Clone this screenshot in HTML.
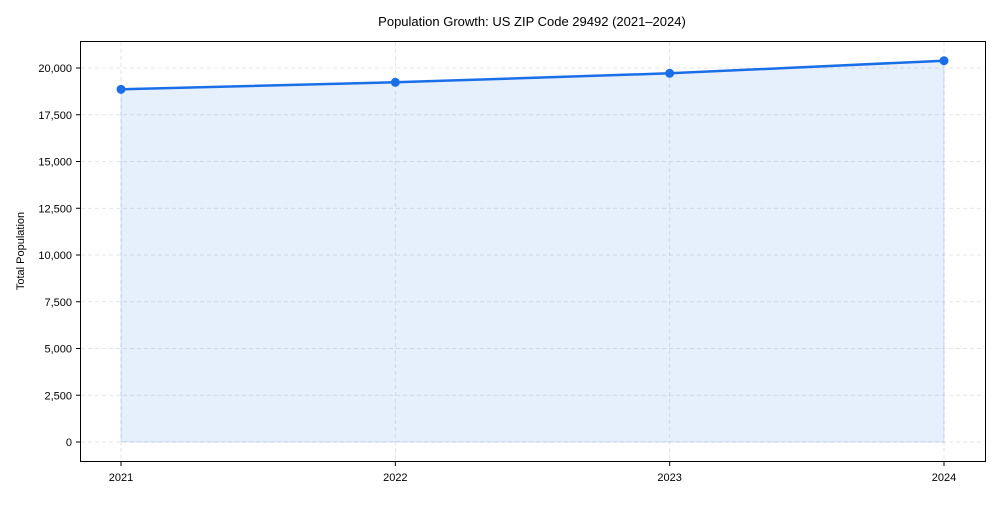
<!DOCTYPE html>
<html><head><meta charset="utf-8"><style>
body{margin:0;background:#fff;font-family:"Liberation Sans",Arial,sans-serif}
svg text{font-family:"Liberation Sans",Arial,sans-serif;fill:#000}
</style></head><body>
<svg id="chart" width="1000" height="500">
<text x="532" y="26" font-size="13" text-anchor="middle">Population Growth: US ZIP Code 29492 (2021–2024)</text>
<text transform="translate(24,251) rotate(-90)" font-size="11" text-anchor="middle">Total Population</text>
<g id="grid"></g><g id="area"></g><g id="line"></g><g id="axes"></g>
<rect x="80.5" y="41.5" width="905" height="420" fill="none" stroke="#000" stroke-width="1"/>
</svg>
<script>
const years=["2021","2022","2023","2024"];
const population=[18860,19235,19716,20390];
const yTicks=[0,2500,5000,7500,10000,12500,15000,17500,20000];
const NS="http://www.w3.org/2000/svg";
const X0=121,X1=944,Y0=442,PPU=374/20000;
function xs(i){return X0+(X1-X0)*i/(years.length-1);}
function ys(v){return Y0-v*PPU;}
function mk(t,a,p){const e=document.createElementNS(NS,t);for(const k in a)e.setAttribute(k,a[k]);document.getElementById(p).appendChild(e);return e;}
yTicks.forEach(v=>{
 const g=mk("line",{x1:81,x2:985,y1:ys(v),y2:ys(v),stroke:"#ddd","stroke-dasharray":"4,3","stroke-width":0.8},"grid");
 
 
 const t=mk("line",{x1:76,x2:80,y1:ys(v),y2:ys(v),stroke:"#000"},"axes");
 
 
 const l=mk("text",{x:72,y:ys(v)+4,"font-size":11,"text-anchor":"end"},"axes");
 l.textContent=v.toLocaleString("en-US");
 
 
});
years.forEach((y,i)=>{
 const g=mk("line",{x1:xs(i),x2:xs(i),y1:42,y2:461,stroke:"#ddd","stroke-dasharray":"4,3","stroke-width":0.8},"grid");
 
 
 const t=mk("line",{x1:xs(i),x2:xs(i),y1:462,y2:466,stroke:"#000"},"axes");
 
 
 const l=mk("text",{x:xs(i),y:481,"font-size":11,"text-anchor":"middle"},"axes");
 l.textContent=y;
 
 
});
let pts=population.map((v,i)=>xs(i)+","+ys(v)).join(" ");
const ar=mk("polygon",{points:xs(0)+","+Y0+" "+pts+" "+xs(years.length-1)+","+Y0,fill:"#1a73e8","fill-opacity":0.11,stroke:"#1a73e8","stroke-opacity":0.15},"area");


const ln=mk("polyline",{points:pts,fill:"none",stroke:"#1a6fe8","stroke-width":2.5},"line");


population.forEach((v,i)=>{
 const c=mk("circle",{cx:xs(i),cy:ys(v),r:4.5,fill:"#1a6fe8"},"line");
 
 
});
</script>
</body></html>
